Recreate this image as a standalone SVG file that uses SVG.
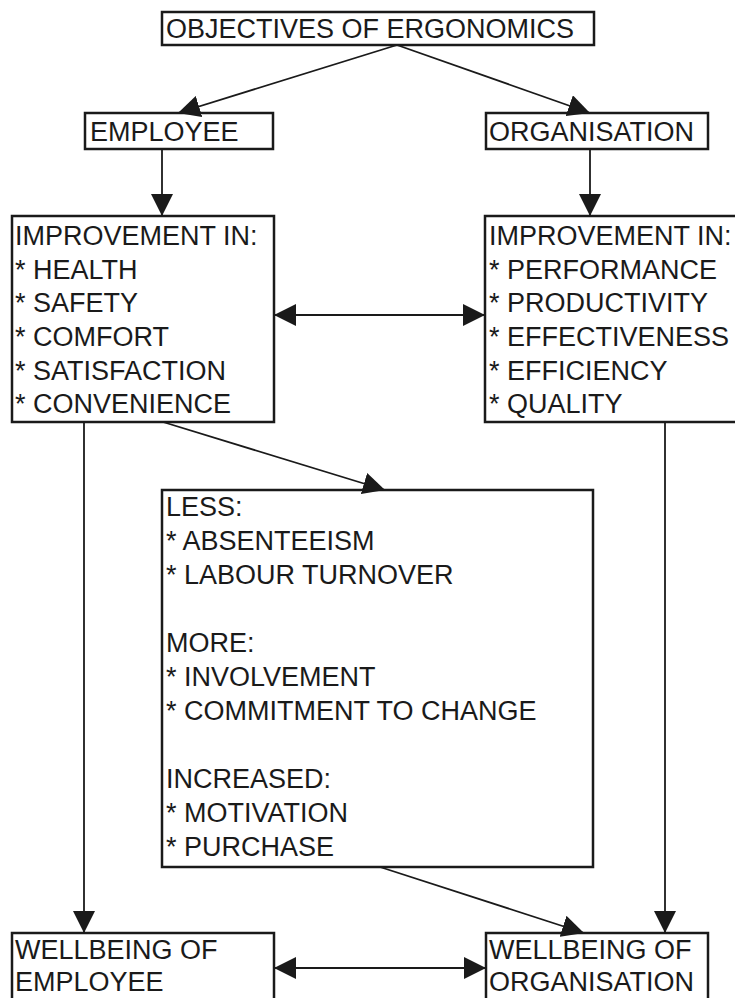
<svg xmlns="http://www.w3.org/2000/svg" width="735" height="998" viewBox="0 0 735 998">
<style>
.box{fill:#fff;stroke:#1a1a1a;stroke-width:2.5}
.t{font-family:"Liberation Sans",Arial,sans-serif;font-size:27px;fill:#1a1a1a}
.c{stroke:#1a1a1a;stroke-width:1.8;fill:none}
</style>
<defs>
<marker id="ah" markerUnits="userSpaceOnUse" markerWidth="22" markerHeight="22" refX="20" refY="10" orient="auto-start-reverse" viewBox="0 0 20 20">
<path d="M0,0 L20,10 L0,20 z" fill="#1a1a1a"/>
</marker>
</defs>
<rect width="735" height="998" fill="#fff"/>
<g id="n-objectives">
<rect class="box" x="162" y="12" width="432" height="33"/>
<text class="t" x="166" y="38">OBJECTIVES OF ERGONOMICS</text>
</g>
<g id="n-employee">
<rect class="box" x="85" y="113" width="188" height="36"/>
<text class="t" x="90" y="141">EMPLOYEE</text>
</g>
<g id="n-organisation">
<rect class="box" x="486" y="113" width="222" height="36"/>
<text class="t" x="489" y="141">ORGANISATION</text>
</g>
<g id="n-imp-employee">
<rect class="box" x="12" y="216" width="262" height="206"/>
<text class="t" x="15" y="245">IMPROVEMENT IN:</text>
<text class="t" x="15" y="279">* HEALTH</text>
<text class="t" x="15" y="312">* SAFETY</text>
<text class="t" x="15" y="346">* COMFORT</text>
<text class="t" x="15" y="380">* SATISFACTION</text>
<text class="t" x="15" y="413">* CONVENIENCE</text>
</g>
<g id="n-imp-organisation">
<rect class="box" x="485" y="216" width="260" height="206"/>
<text class="t" x="489" y="245">IMPROVEMENT IN:</text>
<text class="t" x="489" y="279">* PERFORMANCE</text>
<text class="t" x="489" y="312">* PRODUCTIVITY</text>
<text class="t" x="489" y="346">* EFFECTIVENESS</text>
<text class="t" x="489" y="380">* EFFICIENCY</text>
<text class="t" x="489" y="413">* QUALITY</text>
</g>
<g id="n-middle">
<rect class="box" x="162" y="490" width="431" height="377"/>
<text class="t" x="166" y="516">LESS:</text>
<text class="t" x="166" y="550">* ABSENTEEISM</text>
<text class="t" x="166" y="584">* LABOUR TURNOVER</text>
<text class="t" x="166" y="652">MORE:</text>
<text class="t" x="166" y="686">* INVOLVEMENT</text>
<text class="t" x="166" y="720">* COMMITMENT TO CHANGE</text>
<text class="t" x="166" y="788">INCREASED:</text>
<text class="t" x="166" y="822">* MOTIVATION</text>
<text class="t" x="166" y="856">* PURCHASE</text>
</g>
<g id="n-wb-employee">
<rect class="box" x="12" y="933" width="262" height="70"/>
<text class="t" x="15" y="959">WELLBEING OF</text>
<text class="t" x="15" y="991">EMPLOYEE</text>
</g>
<g id="n-wb-organisation">
<rect class="box" x="486" y="933" width="222" height="70"/>
<text class="t" x="489" y="959">WELLBEING OF</text>
<text class="t" x="489" y="991">ORGANISATION</text>
</g>
<g id="connectors">
<line class="c" x1="397" y1="45" x2="178" y2="113" marker-end="url(#ah)"/>
<line class="c" x1="397" y1="45" x2="590" y2="113" marker-end="url(#ah)"/>
<line class="c" x1="162" y1="149" x2="162" y2="216" marker-end="url(#ah)"/>
<line class="c" x1="590" y1="149" x2="590" y2="216" marker-end="url(#ah)"/>
<line class="c" x1="274" y1="315" x2="485" y2="315" marker-start="url(#ah)" marker-end="url(#ah)"/>
<line class="c" x1="163" y1="422" x2="385" y2="490" marker-end="url(#ah)"/>
<line class="c" x1="84" y1="422" x2="84" y2="933" marker-end="url(#ah)"/>
<line class="c" x1="665" y1="422" x2="665" y2="933" marker-end="url(#ah)"/>
<line class="c" x1="380" y1="867" x2="584" y2="933" marker-end="url(#ah)"/>
<line class="c" x1="274" y1="968" x2="486" y2="968" marker-start="url(#ah)" marker-end="url(#ah)"/>
</g>
</svg>
